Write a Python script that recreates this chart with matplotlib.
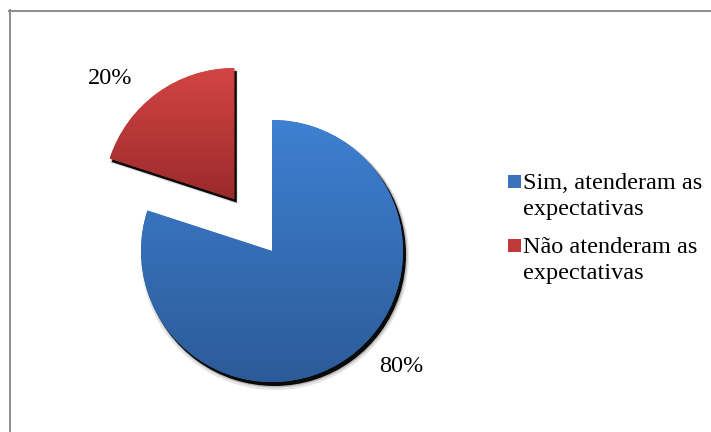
import numpy as np
import matplotlib
matplotlib.use("Agg")
import matplotlib.pyplot as plt
from matplotlib.lines import Line2D
from matplotlib.patches import Wedge, Rectangle

# Survey answers
categories = ["Sim, atenderam as\nexpectativas", "Não atenderam as\nexpectativas"]
shares = [80, 20]
top_colors = ["#3E80D2", "#D34444"]
bottom_colors = ["#2C5B98", "#9B2A2A"]
mid_colors = ["#3A72BC", "#C03A3A"]

W, H, DPI = 711, 432, 100
plt.rcParams["font.family"] = ["Liberation Serif", "DejaVu Serif"]
FS = 17.5

fig = plt.figure(figsize=(W / DPI, H / DPI), dpi=DPI)
ax = fig.add_axes([0, 0, 1, 1])

R_PX = 131.0
cx, cy = 272.0, 251.0  # pie centre in pixel coords (from top-left)

wedges, _ = ax.pie(
    shares,
    colors=mid_colors,
    startangle=90,
    counterclock=False,
    explode=[0, 0.49],
    radius=1.0,
    wedgeprops=dict(linewidth=0),
)

ax.axis("off")

# drop shadows and vertical gradient fill for each slice
px = 1.0 / R_PX
for w, c0, c1 in zip(wedges, top_colors, bottom_colors):
    cen, r, t1, t2 = w.center, w.r, w.theta1, w.theta2
    for dx, dy, rr, a in [(3, -5, 3.0, 0.10), (3, -4, 1.5, 0.18), (2.5, -3.5, 0.5, 0.95)]:
        s = Wedge((cen[0] + dx * px, cen[1] + dy * px), r + rr * px, t1, t2,
                  facecolor="black", edgecolor="none", alpha=a, zorder=0.5)
        ax.add_patch(s)
    w.set_zorder(1)
    ext = w.get_path().get_extents(w.get_patch_transform())
    x0, y0, x1, y1 = ext.x0, ext.y0, ext.x1, ext.y1
    n = 256
    t = np.linspace(0, 1, n)[:, None]
    a0 = np.array(matplotlib.colors.to_rgb(c0))
    a1 = np.array(matplotlib.colors.to_rgb(c1))
    grad = (a0 * (1 - t) + a1 * t)[:, None, :].repeat(2, axis=1)
    im = ax.imshow(grad, extent=[x0, x1, y0, y1], origin="upper",
                   aspect="auto", zorder=1.5, interpolation="bilinear")
    im.set_clip_path(w)

ax.set_xlim(-cx / R_PX, (W - cx) / R_PX)
ax.set_ylim(-(H - cy) / R_PX, cy / R_PX)
ax.set_aspect("auto")

# percentage labels
label_px = [(401, 367), (110, 78)]
for v, (lx, ly) in zip(shares, label_px):
    ax.text((lx - cx) / R_PX, (cy - ly) / R_PX, f"{v}%", fontsize=FS,
            ha="center", va="center", color="black", zorder=3)

# legend: square key aligned with the first line of each two-line label
def fy(y):
    return 1 - y / H

key_x, text_x = 508, 523
first_baseline, entry_step, line_step = 189, 64, 26
for i, label in enumerate(categories):
    base = first_baseline + i * entry_step
    fig.add_artist(Rectangle((key_x / W, fy(base - 1.5)), 13 / W, 12.5 / H,
                             transform=fig.transFigure, facecolor=mid_colors[i],
                             edgecolor="none"))
    for j, line in enumerate(label.split("\n")):
        fig.text(text_x / W, fy(base + j * line_step), line, fontsize=FS,
                 ha="left", va="baseline", color="black")

# chart-area border (left and top edges)
fig.add_artist(Line2D([9.5 / W, 9.5 / W], [0, 1 - 10 / H], color="#8C8C8C",
                      linewidth=1.4, transform=fig.transFigure))
fig.add_artist(Line2D([9 / W, 1], [1 - 10.5 / H, 1 - 10.5 / H], color="#8C8C8C",
                      linewidth=1.4, transform=fig.transFigure))

fig.savefig("out.png", dpi=DPI)
